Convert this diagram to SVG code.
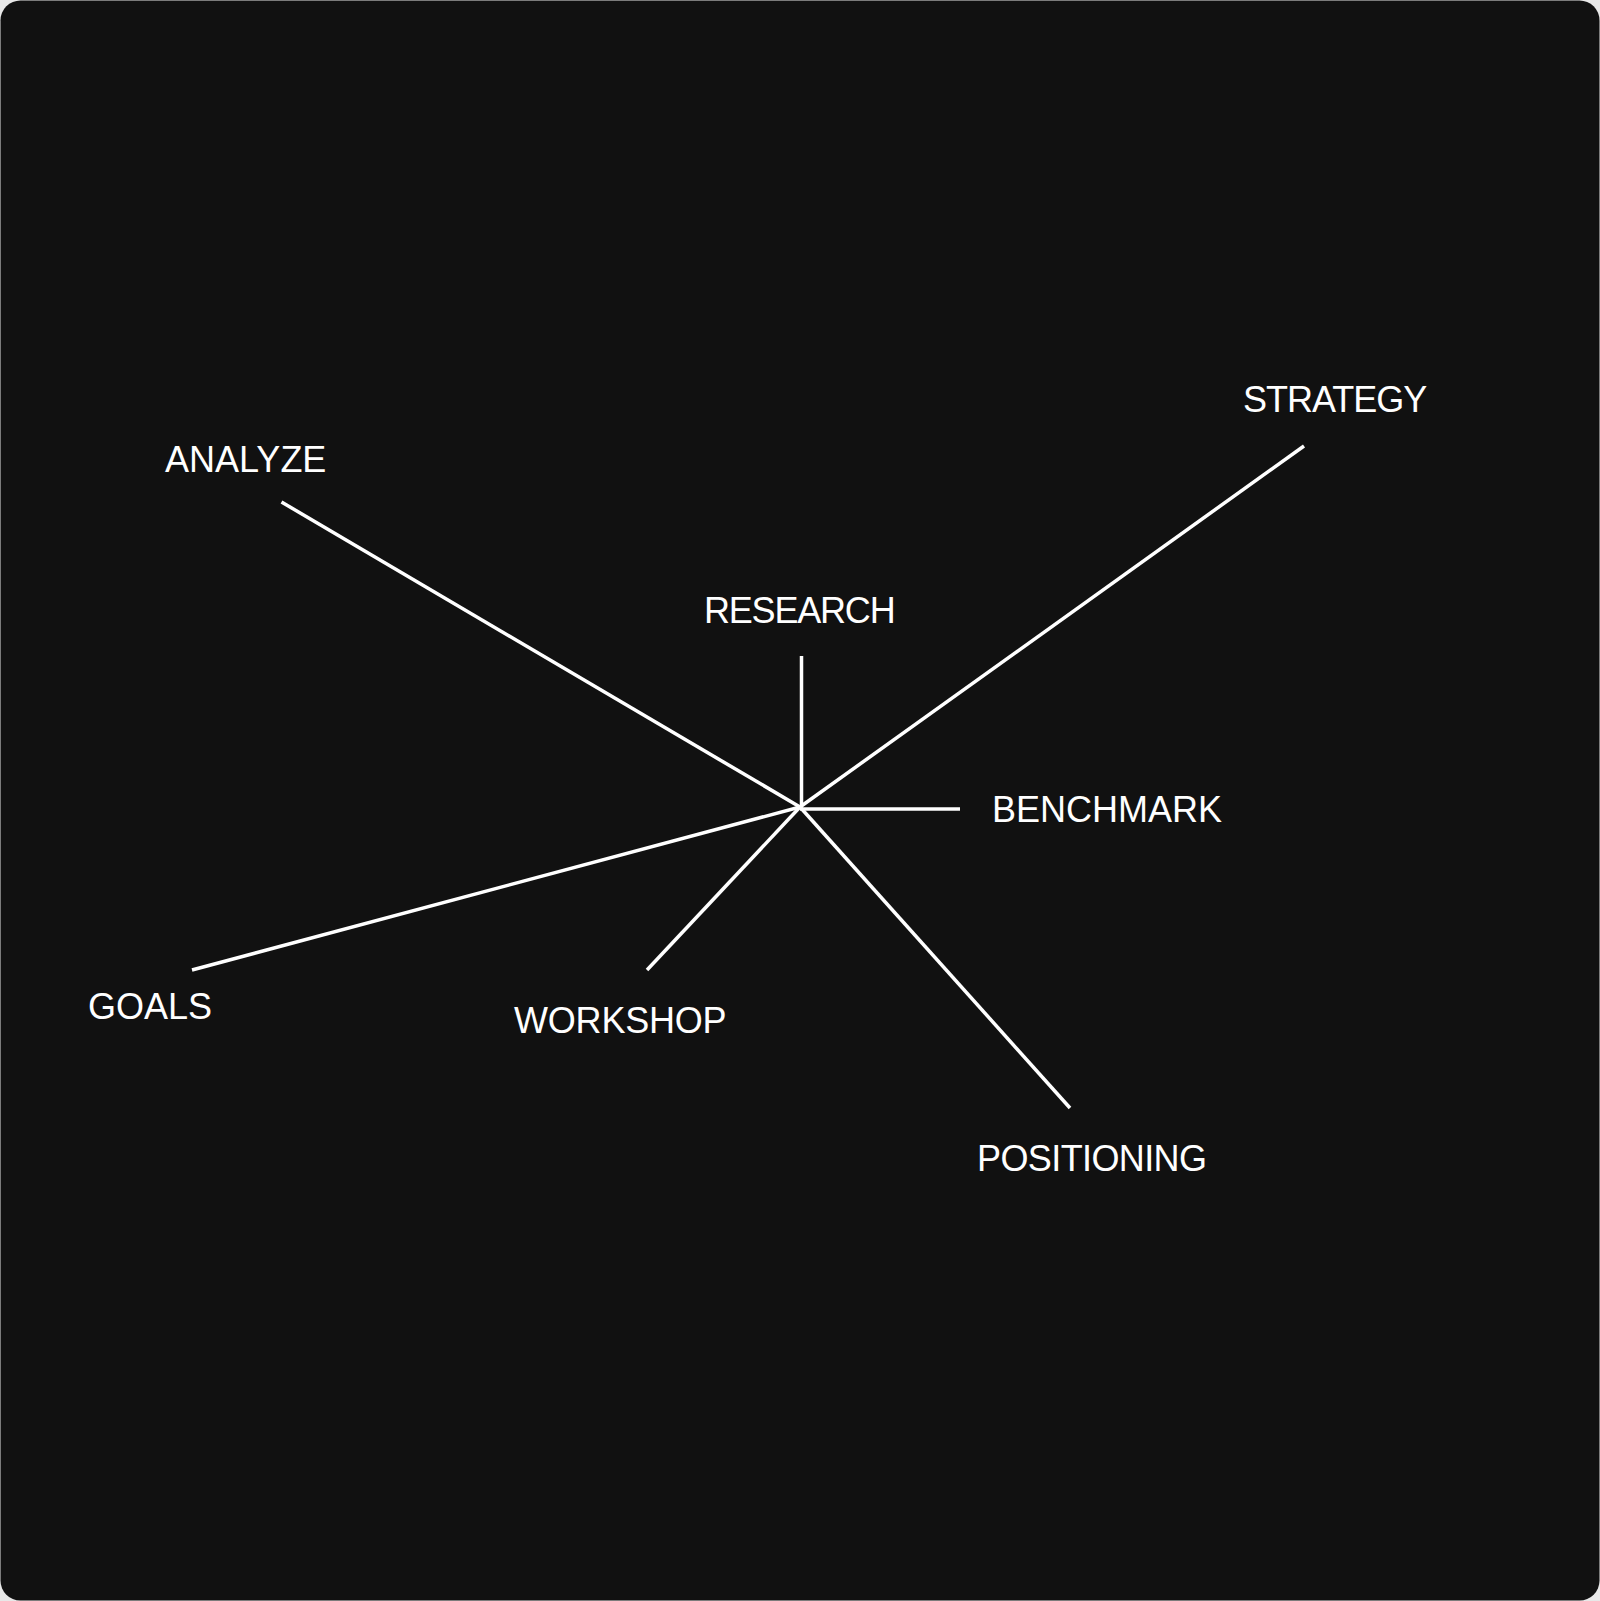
<svg xmlns="http://www.w3.org/2000/svg" width="1600" height="1601" viewBox="0 0 1600 1601">
<style>
.lbl{font-family:"Liberation Sans",Arial,sans-serif;font-size:36px;fill:#ffffff;letter-spacing:-0.5px}
.cn line{stroke:#ffffff;stroke-width:3.5;stroke-linecap:butt}
</style>
<rect x="0" y="0" width="1600" height="1601" fill="#e8e8e8"/>
<rect x="0.5" y="0.5" width="1599" height="1600" rx="20" ry="20" fill="#111111"/>
<g id="connectors" class="cn">
<line x1="800" y1="807" x2="281.5" y2="502"/>
<line x1="800" y1="807" x2="1304" y2="446"/>
<line x1="801.5" y1="806" x2="801.5" y2="656"/>
<line x1="800" y1="809" x2="960" y2="809"/>
<line x1="800" y1="807" x2="192" y2="970"/>
<line x1="800" y1="807" x2="647" y2="970"/>
<line x1="800" y1="807" x2="1070" y2="1108"/>
</g>
<g id="node-research"><text class="lbl" x="704" y="623" style="letter-spacing:-1.2px">RESEARCH</text></g>
<g id="node-strategy"><text class="lbl" x="1243" y="411.5" style="letter-spacing:-1px">STRATEGY</text></g>
<g id="node-analyze"><text class="lbl" x="165" y="471.5" style="letter-spacing:0px">ANALYZE</text></g>
<g id="node-benchmark"><text class="lbl" x="992" y="822" style="letter-spacing:0px">BENCHMARK</text></g>
<g id="node-goals"><text class="lbl" x="88" y="1019" style="letter-spacing:0px">GOALS</text></g>
<g id="node-workshop"><text class="lbl" x="514" y="1033" style="letter-spacing:-0.2px">WORKSHOP</text></g>
<g id="node-positioning"><text class="lbl" x="977" y="1171" style="letter-spacing:-0.6px">POSITIONING</text></g>
</svg>
